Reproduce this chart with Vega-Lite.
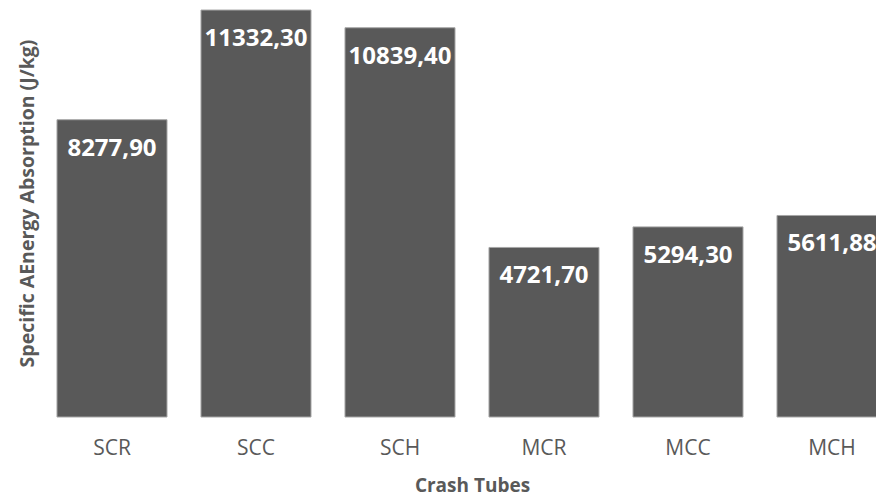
{
  "$schema": "https://vega.github.io/schema/vega-lite/v6.json",
  "autosize": "none",
  "width": 836,
  "height": 417,
  "padding": {"left": 40, "top": 0, "right": 0, "bottom": 80},
  "background": "white",
  "config": {"view": {"stroke": null}},
  "data": {"values": [
    {"tube": "SCR", "value": 8277.9, "label": "8277,90"},
    {"tube": "SCC", "value": 11332.3, "label": "11332,30"},
    {"tube": "SCH", "value": 10839.4, "label": "10839,40"},
    {"tube": "MCR", "value": 4721.7, "label": "4721,70"},
    {"tube": "MCC", "value": 5294.3, "label": "5294,30"},
    {"tube": "MCH", "value": 5611.88, "label": "5611,88"}
  ]},
  "encoding": {
    "x": {
      "field": "tube", "type": "nominal", "sort": null,
      "scale": {"range": [0, 864], "paddingInner": 0.236, "paddingOuter": 0.118},
      "axis": {
        "title": "Crash Tubes", "labelAngle": 0, "ticks": false, "domain": false, "grid": false,
        "labelFont": "Open Sans", "labelFontSize": 21, "labelColor": "#595959", "labelPadding": 20,
        "titleFont": "Open Sans", "titleFontSize": 19, "titleFontWeight": "bold", "titleColor": "#595959",
        "titleY": 68, "titleBaseline": "middle"
      }
    },
    "y": {
      "field": "value", "type": "quantitative",
      "scale": {"domain": [0, 11612], "nice": false},
      "axis": {
        "title": "Specific AEnergy Absorption (J/kg)", "labels": false, "ticks": false, "domain": false, "grid": false,
        "titleFont": "Open Sans", "titleFontSize": 19.5, "titleFontWeight": "bold", "titleColor": "#595959",
        "titleX": -13, "titleY": 203, "titleAngle": 270, "titleAlign": "center", "titleBaseline": "middle"
      }
    }
  },
  "layer": [
    {"mark": {"type": "bar", "color": "#595959", "stroke": "#a6a6a6", "strokeWidth": 1}},
    {"mark": {"type": "text", "color": "white", "font": "Open Sans", "fontWeight": "bold", "fontSize": 24, "baseline": "middle", "dy": 29},
     "encoding": {"text": {"field": "label"}}}
  ]
}
